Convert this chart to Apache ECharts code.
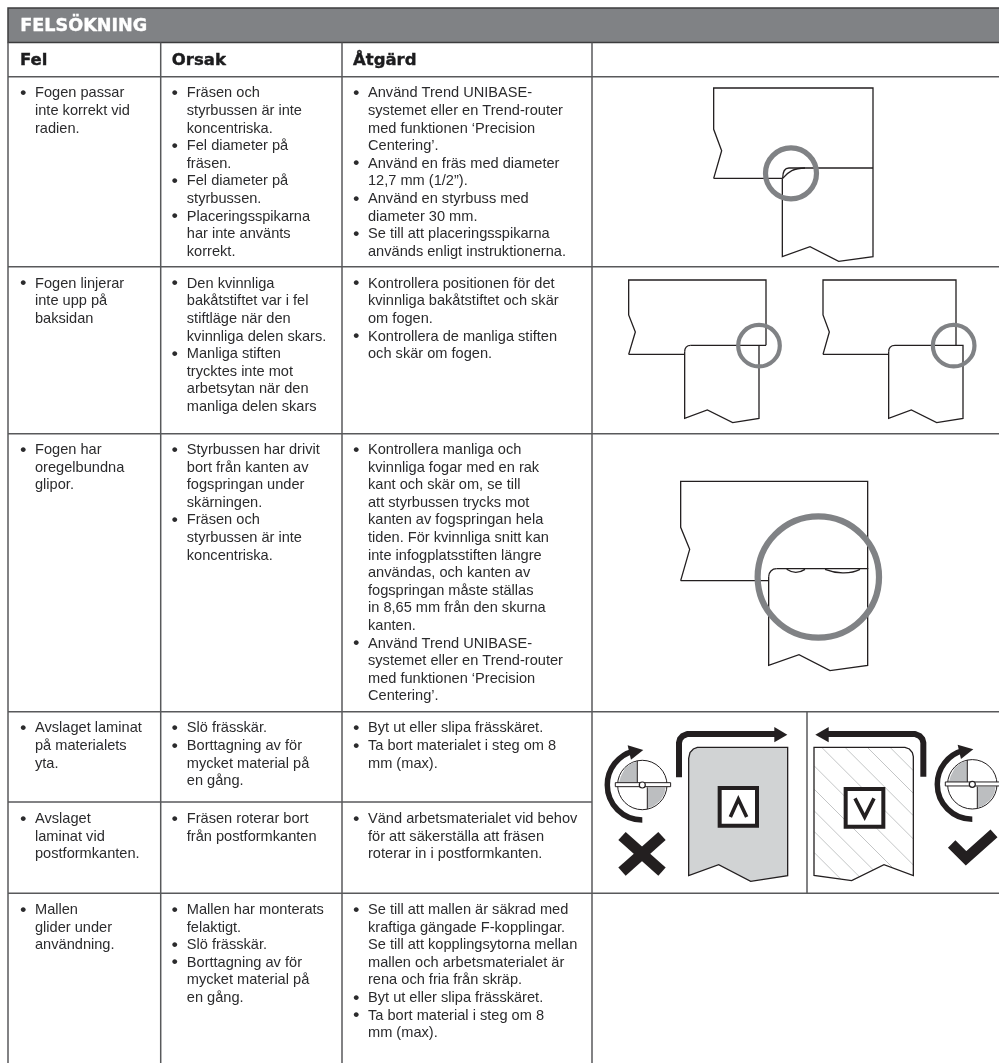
<!DOCTYPE html>
<html>
<head>
<meta charset="utf-8">
<title>Felsökning</title>
<style>
html, body { margin: 0; padding: 0; background: #fff; }
#chart { width: 999px; height: 1063px; }
</style>
<script src="https://cdn.jsdelivr.net/npm/echarts@6/dist/echarts.min.js"></script>
</head>
<body>
<div id="chart"></div>
<script>
var title = "FELSÖKNING";
var columnTitles = ["Fel", "Orsak", "Åtgärd"];

// one list per table column, one entry per row, lines broken as in the original
var felLines = [
    ["• Fogen passar", "inte korrekt vid", "radien."],
    ["• Fogen linjerar", "inte upp på", "baksidan"],
    ["• Fogen har", "oregelbundna", "glipor."],
    ["• Avslaget laminat", "på materialets", "yta."],
    ["• Avslaget", "laminat vid", "postformkanten."],
    ["• Mallen", "glider under", "användning."]
];
var orsakLines = [
    ["• Fräsen och", "styrbussen är inte", "koncentriska.", "• Fel diameter på", "fräsen.", "• Fel diameter på", "styrbussen.", "• Placeringsspikarna", "har inte använts", "korrekt."],
    ["• Den kvinnliga", "bakåtstiftet var i fel", "stiftläge när den", "kvinnliga delen skars.", "• Manliga stiften", "trycktes inte mot", "arbetsytan när den", "manliga delen skars"],
    ["• Styrbussen har drivit", "bort från kanten av", "fogspringan under", "skärningen.", "• Fräsen och", "styrbussen är inte", "koncentriska."],
    ["• Slö frässkär.", "• Borttagning av för", "mycket material på", "en gång."],
    ["• Fräsen roterar bort", "från postformkanten"],
    ["• Mallen har monterats", "felaktigt.", "• Slö frässkär.", "• Borttagning av för", "mycket material på", "en gång."]
];
var atgardLines = [
    ["• Använd Trend UNIBASE-", "systemet eller en Trend-router", "med funktionen ‘Precision", "Centering’.", "• Använd en fräs med diameter", "12,7 mm (1/2”).", "• Använd en styrbuss med", "diameter 30 mm.", "• Se till att placeringsspikarna", "används enligt instruktionerna."],
    ["• Kontrollera positionen för det", "kvinnliga bakåtstiftet och skär", "om fogen.", "• Kontrollera de manliga stiften", "och skär om fogen."],
    ["• Kontrollera manliga och", "kvinnliga fogar med en rak", "kant och skär om, se till", "att styrbussen trycks mot", "kanten av fogspringan hela", "tiden. För kvinnliga snitt kan", "inte infogplatsstiften längre", "användas, och kanten av", "fogspringan måste ställas", "in 8,65 mm från den skurna", "kanten.", "• Använd Trend UNIBASE-", "systemet eller en Trend-router", "med funktionen ‘Precision", "Centering’."],
    ["• Byt ut eller slipa frässkäret.", "• Ta bort materialet i steg om 8", "mm (max)."],
    ["• Vänd arbetsmaterialet vid behov", "för att säkerställa att fräsen", "roterar in i postformkanten."],
    ["• Se till att mallen är säkrad med", "kraftiga gängade F-kopplingar.", "Se till att kopplingsytorna mellan", "mallen och arbetsmaterialet är", "rena och fria från skräp.", "• Byt ut eller slipa frässkäret.", "• Ta bort material i steg om 8", "mm (max)."]
];

// table layout, page pixels
var pageW = 999, pageH = 1063;
var colX = [8, 160.7, 342, 592];
var rowY = [76.7, 266.7, 433.7, 711.7, 802, 893.3];
var rowTextY = [93.3, 283.7, 450, 728.3, 819, 910];
var lineStep = 17.6;
var bulletX = [20.3, 171.8, 353.2];
var textX = [35, 186.8, 368];
var headX = [20, 171.8, 353];

function crop(ox, oy, pts) {
    return pts.map(function (p) { return [ox + p[0] / 3, oy + p[1] / 3]; });
}
function cropList(ox, oy, list) {
    return list.map(function (pts) { return crop(ox, oy, pts); });
}

var thinOutlines = []
    .concat(cropList(590, 50, [
        [[371, 385], [395, 302], [371, 238], [371, 114], [849, 114], [849, 620], [746, 634], [660, 590], [577, 620], [577, 385]],
        [[371, 385], [577, 385]],
        [[597, 354], [849, 354]],
        // left joint of row 2
        [[116, 913], [136, 846], [116, 795], [116, 690], [528, 690], [528, 886]],
        [[116, 913], [284, 913]],
        [[302, 886], [528, 886]],
        [[284, 905], [284, 1105], [352, 1080], [428, 1118], [507, 1105], [507, 886]],
        // right joint of row 2
        [[699, 913], [718, 846], [699, 795], [699, 690], [1098, 690], [1098, 886]],
        [[699, 913], [896, 913]],
        [[915, 886], [1119, 886], [1119, 1105], [1040, 1118], [964, 1080], [896, 1105], [896, 905]]
    ]))
    .concat(cropList(590, 430, [
        [[272, 452], [299, 358], [272, 292], [272, 154], [833, 154], [833, 416]],
        [[272, 452], [536, 452]],
        [[560, 416], [833, 416], [833, 706], [720, 722], [627, 674], [536, 706], [536, 440]]
    ]));

// start, control, control, end
var thinCurves = []
    .concat(cropList(590, 50, [
        [[578, 385], [578, 365], [585, 354], [597, 354]],
        [[578, 385], [595, 365], [612, 354], [645, 354]],
        [[284, 905], [284, 895], [290, 886], [302, 886]],
        [[896, 905], [896, 895], [902, 886], [915, 886]]
    ]))
    .concat(cropList(590, 430, [
        [[536, 440], [536, 426], [546, 416], [560, 416]],
        [[590, 418], [605, 428], [625, 431], [645, 418]],
        [[705, 418], [735, 430], [780, 434], [810, 418]]
    ]));

var rings = [
    { c: crop(590, 50, [[603, 370]])[0], r: 25.5, w: 5.2 },
    { c: crop(590, 50, [[507, 887]])[0], r: 20.8, w: 4.2 },
    { c: crop(590, 50, [[1091, 887]])[0], r: 20.8, w: 4.2 },
    { c: crop(590, 430, [[685, 441]])[0], r: 60.7, w: 6.2 }
];

var greyPanel = crop(590, 720, [[296, 467], [296, 115], [300, 98], [310, 87], [322, 82], [593, 82], [593, 467], [482, 484], [386, 434]]);
var hatchPanel = crop(590, 720, [[672, 82], [945, 82], [958, 87], [967, 98], [970, 110], [970, 467], [882, 434], [785, 482], [672, 466]]);
var hatchLines = cropList(810, 740, [
    [[240, 22], [310, 92]],
    [[172, 22], [310, 160]],
    [[105, 22], [310, 227]],
    [[35, 22], [310, 297]],
    [[13, 78], [310, 375]],
    [[13, 148], [247, 382]],
    [[13, 213], [189, 389]],
    [[13, 275], [148, 410]],
    [[13, 338], [92, 417]]
]);
var feedArrows = cropList(590, 720, [
    [[267, 172], [267, 68], [270, 57], [278, 48], [292, 42], [556, 42]],
    [[1000, 170], [1000, 68], [997, 57], [989, 48], [975, 42], [712, 42]]
]);
var feedHeads = cropList(590, 720, [
    [[553, 21], [592, 44], [553, 67]],
    [[716, 21], [676, 44], [716, 67]]
]);
var squares = cropList(590, 720, [
    [[389, 204], [501, 204], [501, 317], [389, 317]],
    [[767, 207], [880, 207], [880, 320], [767, 320]]
]);
var carets = cropList(590, 720, [
    [[421, 291], [445, 238], [470, 291]],
    [[795, 235], [824, 291], [852, 235]]
]);
var crossMark = cropList(600, 735, [
    [[66, 303], [186, 410]],
    [[186, 303], [66, 410]]
]);
var checkMark = cropList(810, 740, [[[425, 312], [468, 355], [552, 280]]]);

// cutter drawn once relative to the hub, placed twice
var hubs = [[642.3, 785], [972.3, 784.3]];
var cutterGrey = [
    [[-15, -70], [-32, -66], [-52, -50], [-65, -25], [-70, -7], [-15, -7]],
    [[15, 7], [70, 7], [66, 28], [53, 48], [33, 64], [15, 70]]
];
var cutterTicks = [
    [[-15, -73], [-15, -7]],
    [[15, 7], [15, 72]]
];
var cutterBlade = [[-81, -7], [85, -7], [85, 5], [-81, 5]];
var arrowHead = [[-44, -119], [3, -105], [-34, -76]];

function shift(hub, pts) {
    return pts.map(function (p) { return [hub[0] + p[0] / 3, hub[1] + p[1] / 3]; });
}

function pointSeries(kind, shapes, style, z) {
    return {
        type: 'custom',
        coordinateSystem: 'cartesian2d',
        silent: true,
        clip: false,
        z: z,
        data: shapes.map(function (s) { return s[0]; }),
        renderItem: function (params, api) {
            var pts = shapes[params.dataIndex].map(function (p) { return api.coord(p); });
            if (kind === 'curve') {
                return {
                    type: 'bezierCurve',
                    shape: {
                        x1: pts[0][0], y1: pts[0][1],
                        cpx1: pts[1][0], cpy1: pts[1][1],
                        cpx2: pts[2][0], cpy2: pts[2][1],
                        x2: pts[3][0], y2: pts[3][1]
                    },
                    style: style
                };
            }
            return { type: kind, shape: { points: pts }, style: style };
        }
    };
}

function circleSeries(items, style, z) {
    return {
        type: 'custom',
        coordinateSystem: 'cartesian2d',
        silent: true,
        clip: false,
        z: z,
        data: items.map(function (it) { return it.c; }),
        renderItem: function (params, api) {
            var it = items[params.dataIndex];
            var p = api.coord(it.c);
            var st = echarts.util.extend({}, style);
            if (it.w) st.lineWidth = it.w;
            return { type: 'circle', shape: { cx: p[0], cy: p[1], r: it.r }, style: st };
        }
    };
}

function arcSeries(centers, r, from, to, style, z) {
    return {
        type: 'custom',
        coordinateSystem: 'cartesian2d',
        silent: true,
        clip: false,
        z: z,
        data: centers,
        renderItem: function (params, api) {
            var p = api.coord(centers[params.dataIndex]);
            return {
                type: 'arc',
                shape: { cx: p[0], cy: p[1], r: r, startAngle: from, endAngle: to, clockwise: true },
                style: style
            };
        }
    };
}

// text cells
var bodyFont = "14.6px 'Liberation Sans'";
var bodyInk = "#2b2b2d";
var textItems = [];
function addColumn(lines, col) {
    lines.forEach(function (rowLines, r) {
        rowLines.forEach(function (line, i) {
            var y = rowTextY[r] + i * lineStep;
            var isBullet = line.indexOf("• ") === 0;
            if (isBullet) {
                textItems.push({ p: [bulletX[col], y], t: "•", font: "bold 17px 'Liberation Sans'", fill: bodyInk });
            }
            textItems.push({ p: [textX[col], y], t: isBullet ? line.slice(2) : line, font: bodyFont, fill: bodyInk });
        });
    });
}
addColumn(felLines, 0);
addColumn(orsakLines, 1);
addColumn(atgardLines, 2);
textItems.push({ p: [20.3, 26], t: title, font: "bold 17.6px 'DejaVu Sans'", fill: "#ffffff", stroke: "#ffffff", sw: 0.4 });
columnTitles.forEach(function (t, i) {
    textItems.push({ p: [headX[i], 60.8], t: t, font: "bold 16.5px 'DejaVu Sans'", fill: "#1c1c1e", stroke: "#1c1c1e", sw: 0.4 });
});

var textSeries = {
    type: 'custom',
    coordinateSystem: 'cartesian2d',
    silent: true,
    clip: false,
    z: 20,
    data: textItems.map(function (it) { return it.p; }),
    renderItem: function (params, api) {
        var it = textItems[params.dataIndex];
        var p = api.coord(it.p);
        var st = { x: p[0], y: p[1], text: it.t, font: it.font, fill: it.fill, align: 'left', verticalAlign: 'middle' };
        if (it.stroke) {
            st.stroke = it.stroke;
            st.lineWidth = it.sw;
        }
        return { type: 'text', style: st };
    }
};

// table rules
var ruleLines = rowY.map(function (y, i) {
    return [[colX[0], y], [i === 4 ? colX[3] : pageW, y]];
});
colX.forEach(function (x) { ruleLines.push([[x, 42.5], [x, pageH]]); });
ruleLines.push([[807, rowY[3]], [807, rowY[5]]]);
var headerBand = [[[colX[0], 8], [pageW + 2, 8], [pageW + 2, 42.5], [colX[0], 42.5]]];

var ink = "#231f20";
var cutterHubs = hubs.map(function (h) { return { c: h, r: 24.7 }; });
var hubDots = hubs.map(function (h) { return { c: h, r: 3 }; });
var greyShapes = [], tickShapes = [], bladeShapes = [], headShapes = [];
hubs.forEach(function (h) {
    cutterGrey.forEach(function (s) { greyShapes.push(shift(h, s)); });
    cutterTicks.forEach(function (s) { tickShapes.push(shift(h, s)); });
    bladeShapes.push(shift(h, cutterBlade));
    headShapes.push(shift(h, arrowHead));
});

var series = [
    pointSeries('polygon', headerBand, { fill: "#808285", stroke: "#3c3c3e", lineWidth: 1.5 }, 1),
    pointSeries('polyline', ruleLines, { fill: null, stroke: "#58595b", lineWidth: 1.5 }, 1),
    pointSeries('polyline', thinOutlines, { fill: null, stroke: ink, lineWidth: 1.3 }, 5),
    pointSeries('curve', thinCurves, { fill: null, stroke: ink, lineWidth: 1.3 }, 5),
    circleSeries(rings, { fill: null, stroke: "#808285" }, 6),
    pointSeries('polygon', [greyPanel], { fill: "#d1d3d4", stroke: ink, lineWidth: 1.3 }, 5),
    pointSeries('polyline', hatchLines, { fill: null, stroke: "#bcbec0", lineWidth: 0.9 }, 5),
    pointSeries('polygon', [hatchPanel], { fill: null, stroke: ink, lineWidth: 1.3 }, 6),
    pointSeries('polyline', feedArrows, { fill: null, stroke: ink, lineWidth: 6, lineJoin: 'round' }, 7),
    pointSeries('polygon', feedHeads, { fill: ink }, 7),
    pointSeries('polygon', squares, { fill: "#ffffff", stroke: ink, lineWidth: 4 }, 7),
    pointSeries('polyline', carets, { fill: null, stroke: ink, lineWidth: 3.6 }, 8),
    pointSeries('polyline', crossMark, { fill: null, stroke: ink, lineWidth: 11 }, 7),
    pointSeries('polyline', checkMark, { fill: null, stroke: ink, lineWidth: 10.5 }, 7),
    circleSeries(cutterHubs, { fill: "#ffffff", stroke: ink, lineWidth: 1 }, 7),
    pointSeries('polygon', greyShapes, { fill: "#bcbec0" }, 8),
    pointSeries('polyline', tickShapes, { fill: null, stroke: ink, lineWidth: 1 }, 9),
    pointSeries('polygon', bladeShapes, { fill: "#ffffff", stroke: ink, lineWidth: 1 }, 9),
    circleSeries(hubDots, { fill: "#ffffff", stroke: ink, lineWidth: 1.2 }, 10),
    arcSeries(hubs, 35, Math.PI / 2, Math.PI * 1.42, { fill: null, stroke: ink, lineWidth: 5.5 }, 7),
    pointSeries('polygon', headShapes, { fill: ink }, 7),
    textSeries
];

var myChart = echarts.init(document.getElementById("chart"));
myChart.setOption({
    animation: false,
    backgroundColor: '#ffffff',
    grid: { left: 0, right: 0, top: 0, bottom: 0, containLabel: false },
    xAxis: { type: 'value', min: 0, max: pageW, show: false },
    yAxis: { type: 'value', min: 0, max: pageH, inverse: true, show: false },
    series: series
});
</script>
</body>
</html>
